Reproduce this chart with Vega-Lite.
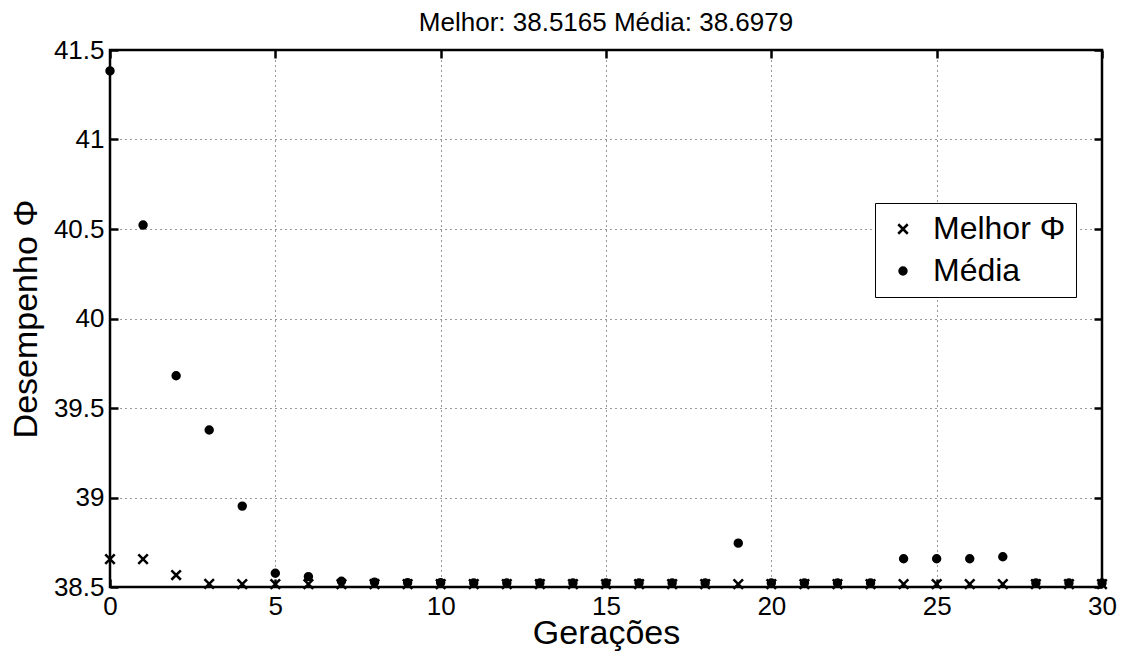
{
  "$schema": "https://vega.github.io/schema/vega-lite/v6.json",
  "width": 992,
  "height": 537,
  "autosize": {"type": "none"},
  "padding": {"left": 110, "top": 50, "right": 19, "bottom": 68},
  "background": "white",
  "title": {
    "text": "Melhor: 38.5165 Média: 38.6979",
    "font": "Liberation Sans",
    "fontSize": 26,
    "fontWeight": "normal",
    "color": "black",
    "anchor": "middle",
    "offset": 1
  },
  "config": {
    "view": {"stroke": "black", "strokeWidth": 2.5},
    "font": "Liberation Sans",
    "title": {"font": "Liberation Sans", "fontSize": 26, "fontWeight": "normal", "color": "black"},
    "axis": {
      "domain": false,
      "labelFont": "Liberation Sans",
      "titleFont": "Liberation Sans",
      "labelFontSize": 26,
      "titleFontSize": 34,
      "titleFontWeight": "normal",
      "labelColor": "black",
      "titleColor": "black",
      "labelFlush": false,
      "labelOverlap": false,
      "tickColor": "black",
      "tickWidth": 2.5,
      "tickSize": -8,
      "gridColor": "black",
      "gridDash": [1, 4],
      "gridOpacity": 0.8,
      "gridWidth": 1
    }
  },
  "data": {
    "values": [
      {"geracao": 0, "serie": "Melhor Φ", "valor": 38.656},
      {"geracao": 1, "serie": "Melhor Φ", "valor": 38.656},
      {"geracao": 2, "serie": "Melhor Φ", "valor": 38.567},
      {"geracao": 3, "serie": "Melhor Φ", "valor": 38.518},
      {"geracao": 4, "serie": "Melhor Φ", "valor": 38.5165},
      {"geracao": 5, "serie": "Melhor Φ", "valor": 38.5165},
      {"geracao": 6, "serie": "Melhor Φ", "valor": 38.5165},
      {"geracao": 7, "serie": "Melhor Φ", "valor": 38.5165},
      {"geracao": 8, "serie": "Melhor Φ", "valor": 38.5165},
      {"geracao": 9, "serie": "Melhor Φ", "valor": 38.5165},
      {"geracao": 10, "serie": "Melhor Φ", "valor": 38.5165},
      {"geracao": 11, "serie": "Melhor Φ", "valor": 38.5165},
      {"geracao": 12, "serie": "Melhor Φ", "valor": 38.5165},
      {"geracao": 13, "serie": "Melhor Φ", "valor": 38.5165},
      {"geracao": 14, "serie": "Melhor Φ", "valor": 38.5165},
      {"geracao": 15, "serie": "Melhor Φ", "valor": 38.5165},
      {"geracao": 16, "serie": "Melhor Φ", "valor": 38.5165},
      {"geracao": 17, "serie": "Melhor Φ", "valor": 38.5165},
      {"geracao": 18, "serie": "Melhor Φ", "valor": 38.5165},
      {"geracao": 19, "serie": "Melhor Φ", "valor": 38.5165},
      {"geracao": 20, "serie": "Melhor Φ", "valor": 38.5165},
      {"geracao": 21, "serie": "Melhor Φ", "valor": 38.5165},
      {"geracao": 22, "serie": "Melhor Φ", "valor": 38.5165},
      {"geracao": 23, "serie": "Melhor Φ", "valor": 38.5165},
      {"geracao": 24, "serie": "Melhor Φ", "valor": 38.5165},
      {"geracao": 25, "serie": "Melhor Φ", "valor": 38.5165},
      {"geracao": 26, "serie": "Melhor Φ", "valor": 38.5165},
      {"geracao": 27, "serie": "Melhor Φ", "valor": 38.5165},
      {"geracao": 28, "serie": "Melhor Φ", "valor": 38.5165},
      {"geracao": 29, "serie": "Melhor Φ", "valor": 38.5165},
      {"geracao": 30, "serie": "Melhor Φ", "valor": 38.5165},
      {"geracao": 0, "serie": "Média", "valor": 41.383},
      {"geracao": 1, "serie": "Média", "valor": 40.522},
      {"geracao": 2, "serie": "Média", "valor": 39.68},
      {"geracao": 3, "serie": "Média", "valor": 39.377},
      {"geracao": 4, "serie": "Média", "valor": 38.952},
      {"geracao": 5, "serie": "Média", "valor": 38.577},
      {"geracao": 6, "serie": "Média", "valor": 38.558},
      {"geracao": 7, "serie": "Média", "valor": 38.532},
      {"geracao": 8, "serie": "Média", "valor": 38.527},
      {"geracao": 9, "serie": "Média", "valor": 38.524},
      {"geracao": 10, "serie": "Média", "valor": 38.524},
      {"geracao": 11, "serie": "Média", "valor": 38.522},
      {"geracao": 12, "serie": "Média", "valor": 38.522},
      {"geracao": 13, "serie": "Média", "valor": 38.522},
      {"geracao": 14, "serie": "Média", "valor": 38.522},
      {"geracao": 15, "serie": "Média", "valor": 38.522},
      {"geracao": 16, "serie": "Média", "valor": 38.522},
      {"geracao": 17, "serie": "Média", "valor": 38.522},
      {"geracao": 18, "serie": "Média", "valor": 38.522},
      {"geracao": 19, "serie": "Média", "valor": 38.745},
      {"geracao": 20, "serie": "Média", "valor": 38.522},
      {"geracao": 21, "serie": "Média", "valor": 38.522},
      {"geracao": 22, "serie": "Média", "valor": 38.522},
      {"geracao": 23, "serie": "Média", "valor": 38.522},
      {"geracao": 24, "serie": "Média", "valor": 38.658},
      {"geracao": 25, "serie": "Média", "valor": 38.658},
      {"geracao": 26, "serie": "Média", "valor": 38.658},
      {"geracao": 27, "serie": "Média", "valor": 38.669},
      {"geracao": 28, "serie": "Média", "valor": 38.522},
      {"geracao": 29, "serie": "Média", "valor": 38.522},
      {"geracao": 30, "serie": "Média", "valor": 38.522}
    ]
  },
  "layer": [
    {
      "mark": {"type": "point", "opacity": 0},
      "encoding": {
        "x": {
          "field": "geracao", "type": "quantitative",
          "scale": {"domain": [0, 30], "nice": false, "zero": false},
          "axis": {"orient": "top", "values": [0, 5, 10, 15, 20, 25, 30], "labels": false, "title": null, "grid": false}
        },
        "y": {
          "field": "valor", "type": "quantitative",
          "scale": {"domain": [38.5, 41.5], "nice": false, "zero": false},
          "axis": {"orient": "right", "values": [38.5, 39, 39.5, 40, 40.5, 41, 41.5], "labels": false, "title": null, "grid": false}
        }
      }
    },
    {
      "mark": {"type": "point", "opacity": 1, "stroke": "black", "strokeWidth": 2.5, "clip": false},
      "encoding": {
        "x": {
          "field": "geracao", "type": "quantitative",
          "axis": {"orient": "bottom", "values": [0, 5, 10, 15, 20, 25, 30], "title": "Gerações", "labelPadding": 14, "titlePadding": -3, "grid": true}
        },
        "y": {
          "field": "valor", "type": "quantitative",
          "axis": {"orient": "left", "values": [38.5, 39, 39.5, 40, 40.5, 41, 41.5], "format": "~g", "title": "Desempenho Φ", "labelPadding": 14, "titlePadding": 10, "grid": true}
        },
        "shape": {
          "field": "serie", "type": "nominal",
          "scale": {"domain": ["Melhor Φ", "Média"], "range": ["M-1,-1L1,1M-1,1L1,-1", "circle"]},
          "legend": {
            "title": null,
            "orient": "none",
            "legendX": 765,
            "legendY": 153,
            "direction": "vertical",
            "labelFont": "Liberation Sans",
            "labelFontSize": 32,
            "labelColor": "black",
            "labelOffset": 14,
            "padding": 10,
            "rowPadding": 10,
            "symbolOffset": 2,
            "symbolStrokeColor": "black",
            "symbolStrokeWidth": 2.5,
            "strokeColor": "black",
            "fillColor": "white",
            "encode": {"legend": {"update": {"strokeWidth": {"value": 2}}}}
          }
        },
        "fill": {
          "field": "serie", "type": "nominal",
          "scale": {"domain": ["Melhor Φ", "Média"], "range": ["transparent", "black"]}
        },
        "size": {
          "field": "serie", "type": "nominal",
          "scale": {"domain": ["Melhor Φ", "Média"], "range": [90, 48]}
        }
      }
    }
  ],
  "resolve": {"axis": {"x": "independent", "y": "independent"}}
}
